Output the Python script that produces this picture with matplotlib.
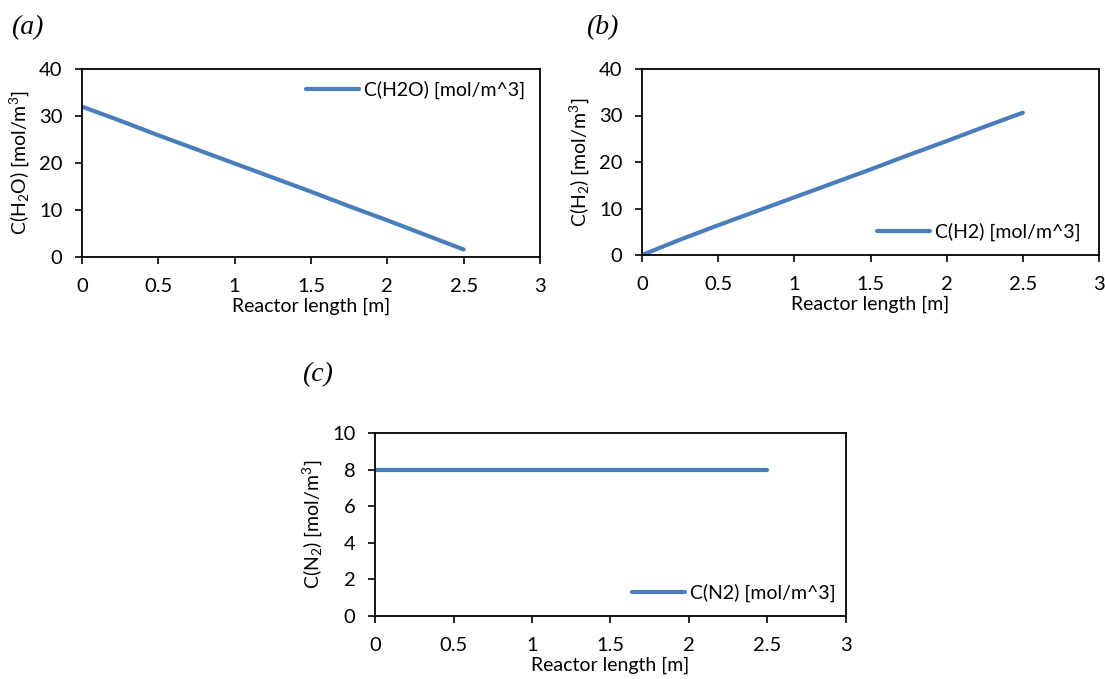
import matplotlib
matplotlib.use("Agg")
import matplotlib.pyplot as plt

plt.rcParams["font.family"] = ["Lato", "DejaVu Sans"]
plt.rcParams["mathtext.default"] = "regular"

# Reactor length positions [m]
length = [0.0, 0.25, 0.5, 0.75, 1.0, 1.25, 1.5, 1.75, 2.0, 2.25, 2.5]
# Concentration profiles [mol/m^3]
c_h2o = [32.0, 29.0, 25.9, 22.9, 19.9, 16.9, 13.9, 10.8, 7.8, 4.7, 1.6]
c_h2 = [0.0, 3.3, 6.4, 9.4, 12.4, 15.4, 18.4, 21.5, 24.5, 27.6, 30.6]
c_n2 = [8.0, 8.0, 8.0, 8.0, 8.0, 8.0, 8.0, 8.0, 8.0, 8.0, 8.0]

xticks = [0, 0.5, 1, 1.5, 2, 2.5, 3]
xticklabels = ["0", "0.5", "1", "1.5", "2", "2.5", "3"]

W, H = 1105, 679
fig = plt.figure(figsize=(W / 100, H / 100), dpi=100)

LINE_COLOR = "#4A7EBB"
FS = 14
TICK_FS = 14.5
LW = 3.0


def make_axes(left, top, right, bottom):
    return fig.add_axes([left / W, 1 - bottom / H, (right - left) / W, (bottom - top) / H])


def style(ax, ymax, ystep, ylabel):
    ax.set_xlim(0, 3)
    ax.set_ylim(0, ymax)
    ax.set_xticks(xticks)
    ax.set_xticklabels(xticklabels)
    ax.set_yticks(range(0, ymax + 1, ystep))
    ax.tick_params(direction="out", length=5, width=1.2, labelsize=TICK_FS)
    ax.tick_params(axis="x", pad=10)
    ax.tick_params(axis="y", pad=9)
    for s in ax.spines.values():
        s.set_linewidth(1.3)
        s.set_color("black")
    ax.set_xlabel("Reactor length [m]", fontsize=FS, labelpad=2)
    ax.set_ylabel(ylabel, fontsize=FS, labelpad=6)


def legend(ax, px, py):
    ax.legend(loc="center left", bbox_to_anchor=(px / W, 1 - py / H),
              bbox_transform=fig.transFigure, frameon=False, fontsize=FS,
              handlelength=2.75, handletextpad=0.25, borderpad=0, borderaxespad=0)


def draw(ax, y, label):
    ax.plot(length, y, color=LINE_COLOR, lw=LW, solid_capstyle="round", label=label)


# (a) water
ax1 = make_axes(82, 69, 540, 257)
draw(ax1, c_h2o, "C(H2O) [mol/m^3]")
style(ax1, 40, 10, "C(H$_2$O) [mol/m$^3$]")
legend(ax1, 306, 90)

# (b) hydrogen
ax2 = make_axes(642, 69, 1099, 255)
draw(ax2, c_h2, "C(H2) [mol/m^3]")
style(ax2, 40, 10, "C(H$_2$) [mol/m$^3$]")
legend(ax2, 877, 232)

# (c) nitrogen
ax3 = make_axes(375, 433, 846, 616)
draw(ax3, c_n2, "C(N2) [mol/m^3]")
style(ax3, 10, 2, "C(N$_2$) [mol/m$^3$]")
legend(ax3, 632, 593)

for txt, x, y in [("(a)", 11, 28), ("(b)", 586, 28), ("(c)", 302, 375)]:
    fig.text(x / W, 1 - y / H, txt, fontsize=20, style="italic",
             family=["Liberation Serif", "DejaVu Serif"], va="center", ha="left")

fig.savefig("out.png", dpi=100)
